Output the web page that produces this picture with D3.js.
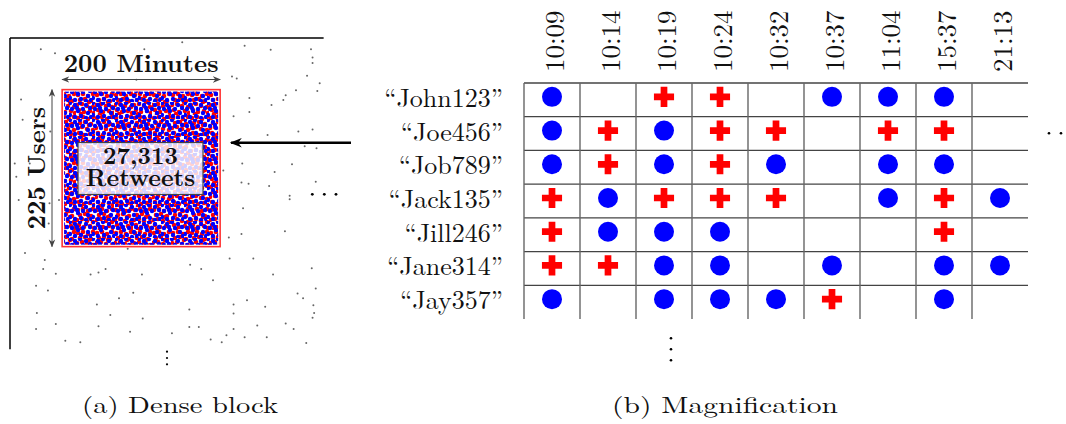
<!DOCTYPE html>
<html><head><meta charset="utf-8">
<script src="https://cdn.jsdelivr.net/npm/d3@7"></script>
<style>html,body{margin:0;padding:0;background:#fff;}svg{display:block;}</style>
</head><body>
<script>
// ---------- data ----------
const times = ["10:09","10:14","10:19","10:24","10:32","10:37","11:04","15:37","21:13"];
const users = ["John123","Joe456","Job789","Jack135","Jill246","Jane314","Jay357"];
// o = blue circle, + = red cross, . = empty (one string per user, one char per time)
const marks = [
  "o.++.ooo.",
  "o+o++.++.",
  "o+o+o.oo.",
  "+o+++.o+o",
  "+ooo...+.",
  "++oo.o.oo",
  "o.ooo+.o."
];
const blockMinutes = [66, 266];   // dense block time span (200 minutes)
const blockUsers = [74, 299];     // dense block user span (225 users)
const blockCount = "27,313";
// sparse retweets outside the block: [minute, user]
const sparse = [[39,16],[57,22],[170,16],[218,6],[297,11],[330,17],[381,16],[383,28],[383,36],[376,54],[392,65],[389,76],[362,75],[349,82],[346,89],[303,86],[331,96],[303,106],[283,112],[281,55],[287,58],[160,60],[14,88],[16,117],[51,134],[6,180],[8,199],[25,180],[11,232],[50,237],[62,232],[49,266],[19,308],[44,318],[42,331],[58,338],[33,355],[48,362],[102,339],[112,336],[121,331],[167,339],[149,302],[156,365],[138,373],[110,382],[127,397],[168,402],[34,394],[58,410],[33,417],[112,413],[152,421],[70,434],[89,436],[205,423],[227,414],[239,414],[254,432],[268,436],[274,426],[283,417],[297,429],[313,412],[325,429],[349,409],[359,417],[375,437],[383,401],[385,394],[384,383],[371,373],[364,366],[387,359],[382,330],[323,385],[300,376],[283,382],[283,395],[227,389],[257,347],[242,331],[228,325],[278,316],[308,316],[333,339],[348,277],[293,281],[277,286],[295,244],[354,226],[354,231],[387,206],[328,212],[302,209],[293,207],[335,192],[357,181],[326,139],[365,134],[383,131],[373,155],[388,158],[294,180],[270,190]];
const captions = ["(a) Dense block", "(b) Magnification"];

// ---------- font picking ----------
function pickFont(cands){
  const c = document.createElement("canvas").getContext("2d");
  const s = "\u201CJohn123\u201D 10:09 Magnification Dense block";
  for (const f of cands){
    let ok = true;
    for (const base of ["monospace","sans-serif"]){
      c.font = `20px ${base}`; const w0 = c.measureText(s).width;
      c.font = `20px "${f}", ${base}`; const w1 = c.measureText(s).width;
      if (Math.abs(w1 - w0) < 0.3) ok = false;
    }
    if (ok) return f;
  }
  return null;
}
const cm = pickFont(["CMU Serif","Latin Modern Roman","Liberation Serif","Tinos","Times New Roman"]);
const serif = cm ? `"${cm}", serif` : "serif";
const isCM = cm === "CMU Serif" || cm === "Latin Modern Roman";
const boldFont = isCM ? serif : "'DejaVu Serif', serif";
const boldSize = isCM ? 25 : 22;
const boxSize = isCM ? 23.5 : 20;

// ---------- setup ----------
const W = 1066, H = 424;
const svg = d3.select("body").append("svg").attr("width", W).attr("height", H);
const defs = svg.append("defs");

function mk(id, color, w, h){
  const m = defs.append("marker").attr("id", id).attr("viewBox","0 0 10 10")
    .attr("refX", 9).attr("refY", 5).attr("markerWidth", w).attr("markerHeight", h)
    .attr("orient","auto-start-reverse").attr("markerUnits","userSpaceOnUse");
  m.append("path").attr("d","M0,1 L10,5 L0,9 L3,5 Z").attr("fill", color);
}
mk("ahGray", "#444", 8, 8);
mk("ahBlack", "#000", 14, 12);

// dense texture: two overlapping tiles of incommensurate size
const patR = defs.append("pattern").attr("id","denseR").attr("patternUnits","userSpaceOnUse")
  .attr("width", 19).attr("height", 23);
const patB = defs.append("pattern").attr("id","denseB").attr("patternUnits","userSpaceOnUse")
  .attr("width", 23).attr("height", 17);
const redDots = [[2,3],[7,2],[12,4],[17,2],[4,8],[9,7],[15,9],[1,13],[6,12],[11,14],[17,15],[3,18],[8,20],[14,19],[18,21],[13,10],[5,22]];
const blueDots = [[1,1],[6,3],[11,1],[17,3],[21,6],[3,7],[9,9],[14,7],[19,11],[1,13],[6,15],[12,14],[17,16],[22,15],[8,6]];
redDots.forEach(d => patR.append("circle").attr("cx", d[0]).attr("cy", d[1]).attr("r", 2.3).attr("fill","#f00"));
blueDots.forEach(d => patB.append("circle").attr("cx", d[0]).attr("cy", d[1]).attr("r", 2.2).attr("fill","#00f"));

// ---------- left panel ----------
const xL = d3.scaleLinear().domain([0, 400]).range([10, 326]);
const yL = d3.scaleLinear().domain([0, 450]).range([38, 352]);
const gL = svg.append("g");

gL.append("line").attr("x1", xL(0)).attr("x2", xL(397)).attr("y1", yL(0)).attr("y2", yL(0))
  .attr("stroke","#000").attr("stroke-width",1.5);
gL.append("line").attr("x1", xL(0)).attr("x2", xL(0)).attr("y1", yL(0)).attr("y2", yL(446))
  .attr("stroke","#000").attr("stroke-width",1.5);

gL.selectAll("circle.sp").data(sparse).join("circle").attr("class","sp")
  .attr("cx", d => xL(d[0])).attr("cy", d => yL(d[1])).attr("r", 1.0).attr("fill","#666");

const bx0 = xL(blockMinutes[0]), bx1 = xL(blockMinutes[1]);
const by0 = yL(blockUsers[0]), by1 = yL(blockUsers[1]);
gL.append("rect").attr("x", bx0).attr("y", by0).attr("width", bx1-bx0).attr("height", by1-by0)
  .attr("fill","#fff").attr("stroke","#f33").attr("stroke-width",1.6);
gL.append("rect").attr("x", bx0+2).attr("y", by0+2).attr("width", bx1-bx0-4).attr("height", by1-by0-4)
  .attr("fill","url(#denseR)");
gL.append("rect").attr("x", bx0+2).attr("y", by0+2).attr("width", bx1-bx0-4).attr("height", by1-by0-4)
  .attr("fill","url(#denseB)");

// dimension arrows
gL.append("line").attr("x1", bx0).attr("x2", bx1).attr("y1", 79.5).attr("y2", 79.5)
  .attr("stroke","#444").attr("stroke-width",1)
  .attr("marker-start","url(#ahGray)").attr("marker-end","url(#ahGray)");
gL.append("line").attr("x1", 52).attr("x2", 52).attr("y1", by0).attr("y2", by1)
  .attr("stroke","#444").attr("stroke-width",1)
  .attr("marker-start","url(#ahGray)").attr("marker-end","url(#ahGray)");

gL.append("text").attr("x", (bx0+bx1)/2).attr("y", 72).attr("text-anchor","middle")
  .attr("font-family", boldFont).attr("font-weight","bold").attr("font-size", boldSize)
  .attr("fill","#111").text((blockMinutes[1]-blockMinutes[0]) + " Minutes");
gL.append("text").attr("transform", `translate(45,${(by0+by1)/2}) rotate(-90)`)
  .attr("text-anchor","middle")
  .attr("font-family", boldFont).attr("font-weight","bold").attr("font-size", boldSize)
  .attr("fill","#111").text((blockUsers[1]-blockUsers[0]) + " Users");

// label box (one text, two lines)
gL.append("rect").attr("x", 78).attr("y", 142.5).attr("width", 125).attr("height", 52)
  .attr("fill","#fff").attr("fill-opacity",0.82).attr("stroke","#444").attr("stroke-width",1.2);
const lbl = gL.append("text").attr("text-anchor","middle")
  .attr("font-family", boldFont).attr("font-weight","bold").attr("font-size", boxSize)
  .attr("fill","#111");
lbl.append("tspan").attr("x", 140.5).attr("y", 164).text(blockCount);
lbl.append("tspan").attr("x", 140.5).attr("y", 185.5).attr("font-size", boxSize + 0.5).text("Retweets");

// big arrow
svg.append("line").attr("x1", 351).attr("x2", 231).attr("y1", 142.7).attr("y2", 142.7)
  .attr("stroke","#000").attr("stroke-width",2.5).attr("marker-end","url(#ahBlack)");

// ellipses
[312.3, 324.3, 336].forEach(x => svg.append("circle").attr("cx", x).attr("cy", 194.3).attr("r", 1.4).attr("fill","#000"));
[351.7, 358, 364.3].forEach(y => svg.append("circle").attr("cx", 167).attr("cy", y).attr("r", 1.1).attr("fill","#000"));

// ---------- right panel ----------
const xR = d3.scaleBand().domain(times).range([524, 1028]);
const yR = d3.scaleBand().domain(users).range([83, 319]);
const gR = svg.append("g");

gR.selectAll("line.h").data(users).join("line").attr("class","h")
  .attr("x1", xR.range()[0]).attr("x2", xR.range()[1])
  .attr("y1", d => yR(d)).attr("y2", d => yR(d))
  .attr("stroke","#444").attr("stroke-width",1.3);
gR.selectAll("line.v").data(times).join("line").attr("class","v")
  .attr("x1", d => xR(d)).attr("x2", d => xR(d))
  .attr("y1", yR.range()[0]).attr("y2", yR.range()[1])
  .attr("stroke","#666").attr("stroke-width",1.4);

gR.selectAll("text.col").data(times).join("text").attr("class","col")
  .attr("transform", d => `translate(${xR(d)+xR.bandwidth()/2+1},72) rotate(-90)`)
  .attr("text-anchor","start").attr("dominant-baseline","central")
  .attr("font-family", serif).attr("font-size", 27).attr("fill","#111")
  .text(d => d);

gR.selectAll("text.row").data(users).join("text").attr("class","row")
  .attr("x", 503).attr("y", d => yR(d)+yR.bandwidth()/2+7)
  .attr("text-anchor","end")
  .attr("font-family", serif).attr("font-size", 26).attr("fill","#111")
  .text(d => "\u201C" + d + "\u201D");

const cells = [];
users.forEach((u,i) => times.forEach((t,j) => { const c = marks[i][j]; if (c !== ".") cells.push({u, t, c}); }));
const circ = d3.symbol().type(d3.symbolCircle).size(Math.PI*100);
const cross = d3.symbol().type(d3.symbolCross).size(225);
gR.selectAll("path.m").data(cells).join("path").attr("class","m")
  .attr("transform", d => `translate(${xR(d.t)+xR.bandwidth()/2},${yR(d.u)+yR.bandwidth()/2-3})`)
  .attr("d", d => d.c === "o" ? circ() : cross())
  .attr("fill", d => d.c === "o" ? "#0000ff" : "#ff0000");

[1049, 1061, 1073].forEach(x => svg.append("circle").attr("cx", x).attr("cy", 133.3).attr("r", 1.3).attr("fill","#000"));
[338.3, 349.3, 360.3].forEach(y => svg.append("circle").attr("cx", 671).attr("cy", y).attr("r", 1.3).attr("fill","#000"));

// ---------- captions ----------
const capPos = [[82, 196], [612, 226]];
captions.forEach((c,i) => svg.append("text").attr("x", capPos[i][0]).attr("y", 413)
  .attr("textLength", capPos[i][1]).attr("lengthAdjust","spacingAndGlyphs")
  .attr("font-family", serif).attr("font-size", isCM ? 23 : 22).attr("fill","#111").text(c));
</script>
</body></html>
